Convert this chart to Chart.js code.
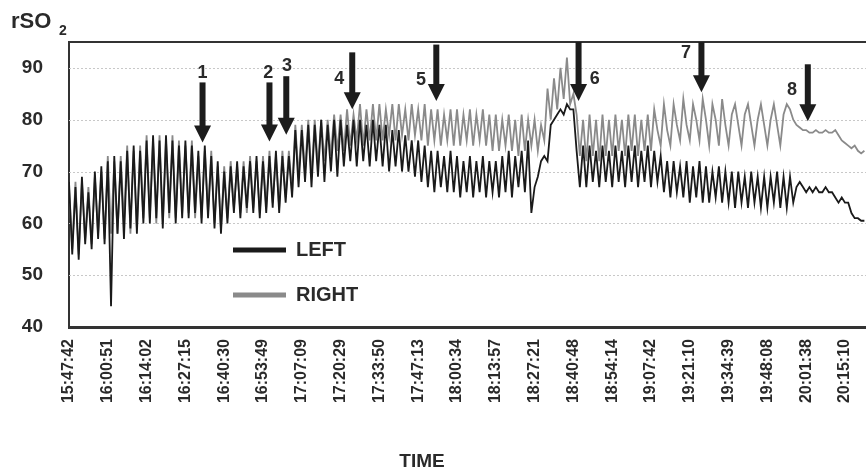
<!DOCTYPE html>
<html><head><meta charset="utf-8">
<script src="https://cdn.jsdelivr.net/npm/chart.js@4"></script>
<style>html,body{margin:0;padding:0;background:#fff}</style>
</head><body>
<canvas id="c" width="866" height="471"></canvas>
<script>
// ---- data ----
const tickLabels = ['15:47:42','16:00:51','16:14:02','16:27:15','16:40:30','16:53:49','17:07:09','17:20:29','17:33:50','17:47:13','18:00:34','18:13:57','18:27:21','18:40:48','18:54:14','19:07:42','19:21:10','19:34:39','19:48:08','20:01:38','20:15:10'];
const samplesPerTick = 12;
const yTicks = [40, 50, 60, 70, 80, 90];

const leftValues = [
  68,54,67,53,69,56,66,55,70,57,71,56,
  72,44,73,58,72,57,74,59,75,58,74,60,
  76,60,77,61,76,59,77,62,76,60,75,61,
  76,61,75,62,74,60,75,61,73,59,72,58,
  70,60,71,62,72,61,71,63,72,62,73,61,
  72,62,73,63,74,62,73,64,73,65,78,67,
  78,68,79,67,79,69,80,68,79,70,80,69,
  80,71,79,72,80,71,80,72,79,71,80,72,
  79,71,79,70,78,71,78,70,77,70,76,69,
  76,68,75,67,74,66,74,67,73,66,74,66,
  73,65,72,66,73,65,72,66,73,65,72,66,
  72,65,73,66,74,65,73,67,74,66,76,62,
  67,69,72,73,72,79,80,81,82,81,83,82,
  82,74,67,75,67,75,68,74,67,75,68,74,
  67,75,68,74,67,75,68,75,67,74,68,75,
  67,74,68,73,66,72,65,72,66,71,65,72,
  64,71,65,72,64,71,64,70,65,71,64,70,
  64,70,63,70,64,69,63,70,64,69,63,69,
  63,69,64,70,63,69,63,69,64,67,68,67,
  66,67,66,67,66,66,67,66,66,65,64,65,
  64,64,62,61,61,60.5,60.5
];
const rightValues = [
  67,55,68,54,68,57,67,56,69,58,70,57,
  73,58,72,58,73,60,75,58,74,59,75,61,
  77,61,76,60,77,60,76,61,77,61,76,62,
  75,62,76,61,73,61,74,62,74,60,71,59,
  71,61,72,63,71,62,72,62,73,63,72,62,
  73,63,74,64,73,63,74,65,74,66,79,69,
  79,70,80,69,80,71,80,72,80,73,81,74,
  81,74,82,75,81,76,83,75,82,76,83,76,
  83,76,82,77,83,76,83,77,82,76,83,77,
  82,76,83,75,82,76,82,75,81,76,82,75,
  82,75,81,76,82,75,81,76,82,75,81,74,
  81,74,80,75,81,74,80,73,81,74,80,75,
  80,74,79,76,86,80,88,82,90,84,92,83,
  85,81,73,80,72,81,73,80,72,81,73,80,
  73,81,74,80,73,81,74,81,73,80,74,81,
  74,82,78,75,83,78,75,83,79,76,84,79,
  76,83,80,76,84,80,75,83,80,75,84,79,
  75,81,83,79,75,81,83,79,75,80,83,79,
  75,80,83,79,75,81,83,82,80,79,78.5,78,
  78,77.5,77.5,78,77.5,77.5,78,77.5,77.5,78,77,76,
  75.5,75,74.5,75,74,73.5,74
];

// event arrows (x in sample index, y in rSO2 units)
const arrowText  = ['1','2','3','4','5','6','7','8'];
const arrowX     = [41.3, 62.0, 67.2, 87.6, 113.6, 157.6, 195.6, 228.5];
const arrowTop   = [87.2, 87.2, 88.4, 93.0, 94.5, 95.0, 95.0, 90.7];
const arrowTip   = [75.6, 75.8, 77.1, 82.0, 83.6, 83.6, 85.3, 79.7];
const labelX     = [41.3, 61.6, 67.4, 83.6, 108.9, 162.6, 190.8, 223.6];
const labelY     = [89.0, 89.0, 90.3, 87.8, 87.7, 87.8, 92.9, 85.7];

const FONT = '"Liberation Sans", Arial, sans-serif';
const TXT = '#2a2a2a';

const toXY = arr => arr.map((v, i) => ({x: i, y: v}));

const overlay = {
  id: 'overlay',
  beforeDatasetsDraw(chart) {
    const {ctx, chartArea: a, scales: {y}} = chart;
    ctx.save();
    ctx.strokeStyle = '#c8c8c8';
    ctx.lineWidth = 1;
    ctx.setLineDash([2, 2]);
    yTicks.forEach(v => {
      if (v === y.min) return;
      const py = Math.round(y.getPixelForValue(v)) + 0.5;
      ctx.beginPath(); ctx.moveTo(a.left, py); ctx.lineTo(a.right, py); ctx.stroke();
    });
    ctx.restore();
  },
  afterDatasetsDraw(chart) {
    const {ctx, chartArea: a, scales: {x, y}} = chart;
    ctx.save();
    // top frame line
    ctx.strokeStyle = '#333'; ctx.lineWidth = 2;
    ctx.beginPath(); ctx.moveTo(a.left, a.top); ctx.lineTo(a.right, a.top); ctx.stroke();
    // arrows
    arrowX.forEach((xv, i) => {
      const px = x.getPixelForValue(xv);
      const pt = y.getPixelForValue(arrowTop[i]);
      const pb = y.getPixelForValue(arrowTip[i]);
      const hh = 17, hw = 8.5;
      ctx.fillStyle = '#1c1c1c';
      ctx.fillRect(px - 3, pt, 6, pb - pt - hh + 1);
      ctx.beginPath();
      ctx.moveTo(px - hw, pb - hh); ctx.lineTo(px + hw, pb - hh); ctx.lineTo(px, pb);
      ctx.closePath(); ctx.fill();
      ctx.font = 'bold 18px ' + FONT;
      ctx.textAlign = 'center'; ctx.textBaseline = 'middle';
      ctx.fillStyle = TXT;
      ctx.fillText(arrowText[i], x.getPixelForValue(labelX[i]), y.getPixelForValue(labelY[i]));
    });
    // legend inside plot (LEFT above RIGHT)
    const order = ['LEFT', 'RIGHT'];
    const lx = a.left + 164, ly = [250, 295];
    order.forEach((name, i) => {
      const d = chart.data.datasets.find(ds => ds.label === name);
      ctx.strokeStyle = d.borderColor; ctx.lineWidth = 5;
      ctx.beginPath(); ctx.moveTo(lx, ly[i]); ctx.lineTo(lx + 53, ly[i]); ctx.stroke();
      ctx.fillStyle = TXT; ctx.font = 'bold 20px ' + FONT;
      ctx.textAlign = 'left'; ctx.textBaseline = 'middle';
      ctx.fillText(d.label, lx + 63, ly[i]);
    });
    ctx.restore();
  },
  afterDraw(chart) {
    const {ctx} = chart;
    ctx.save();
    ctx.fillStyle = TXT; ctx.textBaseline = 'alphabetic'; ctx.textAlign = 'left';
    ctx.font = 'bold 22px ' + FONT;
    ctx.fillText('rSO', 11, 28);
    ctx.font = 'bold 14px ' + FONT;
    ctx.fillText('2', 59, 35);
    ctx.font = 'bold 19px ' + FONT;
    ctx.textAlign = 'center';
    ctx.fillText('TIME', 422, 467);
    ctx.restore();
  }
};

new Chart(document.getElementById('c'), {
  type: 'line',
  data: {
    datasets: [
      {label: 'LEFT',  data: toXY(leftValues),  borderColor: '#1a1a1a', borderWidth: 1.8, pointRadius: 0, tension: 0},
      {label: 'RIGHT', data: toXY(rightValues), borderColor: '#8a8a8a', borderWidth: 1.8, pointRadius: 0, tension: 0}
    ]
  },
  options: {
    responsive: false,
    animation: false,
    layout: {padding: {top: 42, right: 0, left: 0, bottom: 0}},
    plugins: {legend: {display: false}, tooltip: {enabled: false}},
    scales: {
      x: {
        type: 'linear', min: 0, max: 246.5,
        afterBuildTicks: s => { s.ticks = tickLabels.map((_, i) => ({value: i * samplesPerTick})); },
        afterFit: s => { s.height = 144; s.paddingRight = 0; s.paddingLeft = 0; },
        grid: {display: false, drawTicks: false},
        border: {display: true, color: '#333', width: 3},
        ticks: {
          autoSkip: false, minRotation: 90, maxRotation: 90, padding: 12, color: TXT,
          font: {family: FONT, weight: 'bold', size: 16},
          callback: v => tickLabels[Math.round(v / samplesPerTick)]
        }
      },
      y: {
        min: 40, max: 95,
        afterBuildTicks: s => { s.ticks = yTicks.map(v => ({value: v})); },
        afterFit: s => { s.width = 69; s.paddingTop = 0; },
        grid: {display: false, drawTicks: false},
        border: {display: true, color: '#333', width: 2},
        ticks: {padding: 26, color: TXT, font: {family: FONT, weight: 'bold', size: 19}}
      }
    }
  },
  plugins: [overlay]
});
</script>
</body></html>
